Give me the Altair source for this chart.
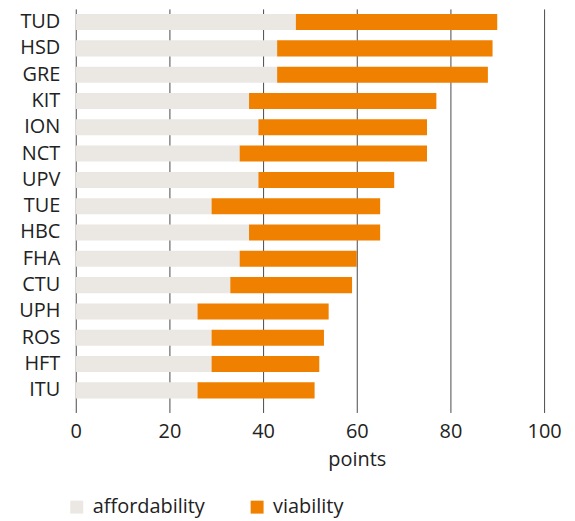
import altair as alt
import pandas as pd

schools = ["TUD", "HSD", "GRE", "KIT", "ION", "NCT", "UPV", "TUE", "HBC",
           "FHA", "CTU", "UPH", "ROS", "HFT", "ITU"]
affordability = [47, 43, 43, 37, 39, 35, 39, 29, 37, 35, 33, 26, 29, 29, 26]
viability = [43, 46, 45, 40, 36, 40, 29, 36, 28, 25, 26, 28, 24, 23, 25]
series = ["affordability", "viability"]
colors = ["#ebe8e4", "#f08000"]
x_ticks = [0, 20, 40, 60, 80, 100]

rows = []
for s, a, v in zip(schools, affordability, viability):
    rows.append({"school": s, "component": "affordability", "value": a, "k": 0})
    rows.append({"school": s, "component": "viability", "value": v, "k": 1})
df = pd.DataFrame(rows)

FONT = "Open Sans"
TXT = "#222222"
W = 400

chart = alt.Chart(df).mark_bar().encode(
    y=alt.Y("school:N", sort=schools,
            scale=alt.Scale(paddingInner=0.39, paddingOuter=0.195),
            axis=alt.Axis(title=None, ticks=False, domain=False, grid=False,
                          labelFont=FONT, labelFontSize=20, labelColor=TXT,
                          labelFontWeight=W,
                          labelPadding=16, minExtent=68, maxExtent=68)),
    x=alt.X("value:Q", stack="zero",
            scale=alt.Scale(domain=[0, 100], nice=False),
            axis=alt.Axis(values=x_ticks, title="points", domain=False,
                          grid=True, gridColor="#4a4a4a", gridWidth=1,
                          ticks=True, tickSize=9, tickColor="#4a4a4a", tickWidth=1,
                          labelFont=FONT, labelFontSize=20, labelColor=TXT,
                          labelFontWeight=W,
                          labelPadding=9, labelFlush=False,
                          titleFont=FONT, titleFontSize=20, titleFontWeight=W,
                          titleColor=TXT, titleX=282, titleY=62,
                          titleAlign="center", titleBaseline="alphabetic")),
    color=alt.Color("component:N", sort=series,
                    scale=alt.Scale(domain=series, range=colors),
                    legend=alt.Legend(title=None, orient="none", direction="horizontal",
                                      legendX=-9, legendY=490,
                                      symbolType="square", symbolSize=169,
                                      symbolStrokeWidth=0, symbolOpacity=1,
                                      labelFont=FONT, labelFontSize=20, labelColor=TXT,
                                      labelFontWeight=W,
                                      labelOffset=6, columnPadding=42)),
    order=alt.Order("k:Q"),
).properties(
    width=470, height=396,
    padding={"left": 0, "top": 0, "right": 5, "bottom": 5},
).configure_view(stroke=None)

chart.save("out.html", embed_options={"renderer": "svg", "actions": False})
